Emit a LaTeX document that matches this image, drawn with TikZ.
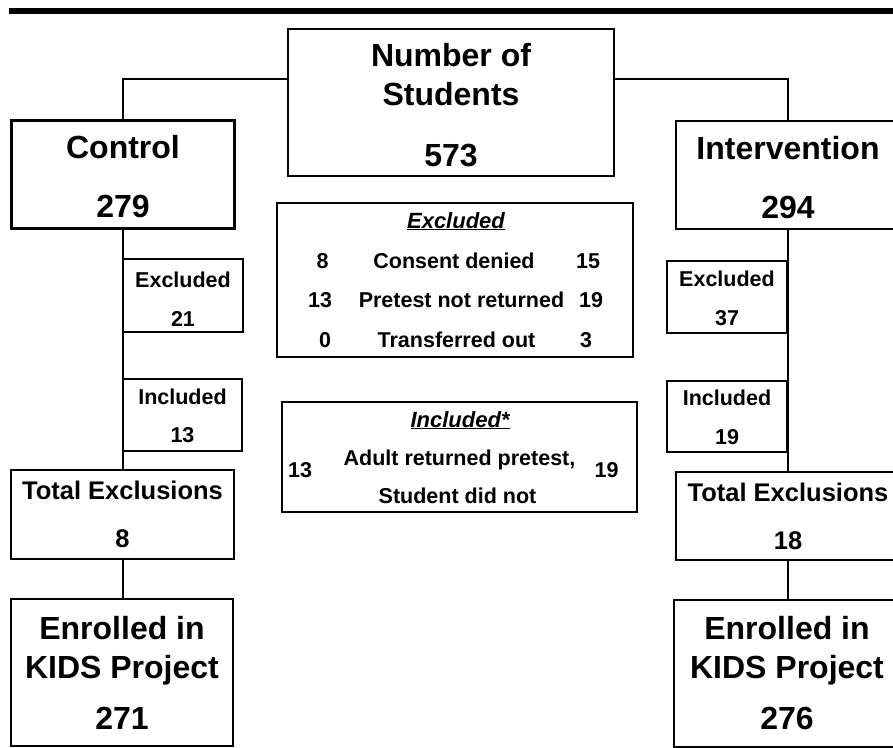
\documentclass[tikz,border=0pt]{standalone}
\usepackage{fontspec}
\setmainfont{Liberation Sans}
\usetikzlibrary{shapes,arrows}
\newcommand{\topgap}[1]{\rule{0pt}{#1}}
\tikzstyle{bigblock} = [rectangle, draw, line width=2.8pt, inner sep=0pt,
align=center, font=\bfseries\fontsize{32}{39}\selectfont]
\tikzstyle{smallblock} = [rectangle, draw, line width=2.6pt, inner sep=0pt,
align=center, minimum width=120pt, minimum height=72pt,
font=\bfseries\fontsize{21.5}{38.5}\selectfont]
\tikzstyle{panel} = [rectangle, draw, line width=2.6pt, inner sep=0pt]
\tikzstyle{txt} = [inner sep=0pt, anchor=base, font=\bfseries\fontsize{21.5}{26}\selectfont]
\tikzstyle{head} = [txt, font=\bfseries\itshape\fontsize{22}{26}\selectfont]
\tikzstyle{line} = [draw, line width=2pt]

\begin{document}
\begin{tikzpicture}[x=1pt, y=-1pt]
\useasboundingbox (0,0) rectangle (893,747);
\clip (0,0) rectangle (893,747);
\fill (9,8) rectangle (900,14);
% Place nodes
\node [bigblock, minimum width=326pt, minimum height=147pt] (students) at (451,102.5) {\topgap{28pt}Number of\\Students\\[22pt]573};
\node [bigblock, minimum width=223pt, minimum height=108pt, font=\bfseries\fontsize{32}{59}\selectfont] (control) at (123,174.5) {\topgap{28pt}Control\\279};
\node [bigblock, minimum width=224pt, minimum height=108pt, font=\bfseries\fontsize{32}{59}\selectfont] (interv) at (788,175) {\topgap{28pt}Intervention\\294};
\node [smallblock, minimum height=73pt, font=\bfseries\fontsize{21.5}{39}\selectfont] (lexcl) at (183,295.5) {\topgap{22pt}Excluded\\21};
\node [smallblock, minimum width=119pt] (lincl) at (182.5,415) {\topgap{17.5pt}Included\\13};
\node [smallblock, font=\bfseries\fontsize{21.5}{39}\selectfont] (rexcl) at (727,297) {\topgap{17.5pt}Excluded\\37};
\node [smallblock, minimum height=71pt] (rincl) at (727,416.5) {\topgap{17.5pt}Included\\19};
\node [bigblock, minimum width=223pt, minimum height=89pt, font=\bfseries\fontsize{25.5}{48}\selectfont] (ltotal) at (122.5,514.5) {Total Exclusions\\8};
\node [bigblock, minimum width=224pt, minimum height=88pt, font=\bfseries\fontsize{25.5}{48}\selectfont] (rtotal) at (788,516) {Total Exclusions\\18};
\node [bigblock, minimum width=222pt, minimum height=147pt] (lenroll) at (122,672.5) {Enrolled in\\KIDS Project\\[12pt]271};
\node [bigblock, minimum width=226pt, minimum height=147pt] (renroll) at (787,673.5) {Enrolled in\\KIDS Project\\[12pt]276};
% Middle tables
\node [panel, minimum width=356pt, minimum height=154pt] (exclbox) at (455,280) {};
\node [head] (excltitle) at (456,228) {\underline{Excluded}};
\node [txt] (cconsent) at (322.5,268) {8};
\node [txt] (consent) at (454,268) {Consent denied};
\node [txt] (iconsent) at (588,268) {15};
\node [txt] (cpretest) at (320,307) {13};
\node [txt] (pretest) at (461.5,307) {Pretest not returned};
\node [txt] (ipretest) at (591,307) {19};
\node [txt] (ctransfer) at (325,347) {0};
\node [txt] (transfer) at (456.5,347) {Transferred out};
\node [txt] (itransfer) at (586,347) {3};
\node [panel, minimum width=355pt, minimum height=110pt] (inclbox) at (459.5,457) {};
\node [head] (incltitle) at (460,427) {\underline{Included*}};
\node [txt] (adult) at (459.5,465) {Adult returned pretest,};
\node [txt] (student) at (457.5,503) {Student did not};
\node [txt] (cadult) at (300,477) {13};
\node [txt] (iadult) at (606.5,477) {19};
% Draw edges
\path [line] ([yshift=23.5pt]students.west) -| (control.north);
\path [line] ([yshift=23.5pt]students.east) -| (interv.north);
\path [line] (control.south) -- (control.south |- ltotal.north);
\path [line] (ltotal.south) -- (ltotal.south |- lenroll.north);
\path [line] (interv.south) -- (interv.south |- rtotal.north);
\path [line] (rtotal.south) -- (rtotal.south |- renroll.north);
\end{tikzpicture}
\end{document}
